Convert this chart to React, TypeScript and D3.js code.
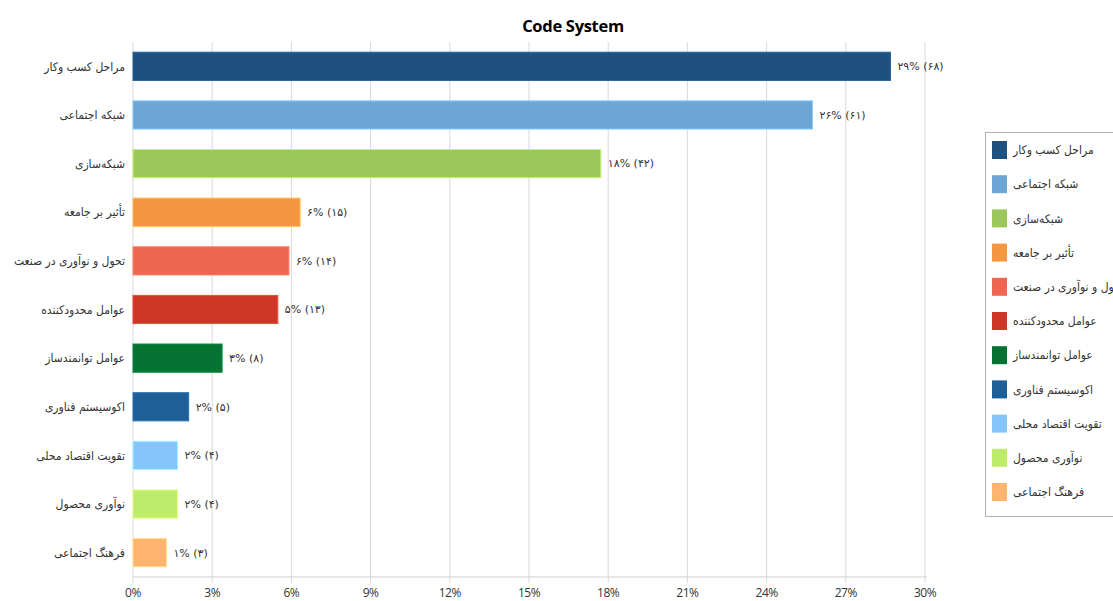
import React from "react";
import * as d3 from "d3";

const categories = [
  "مراحل کسب وکار",
  "شبکه اجتماعی",
  "شبکه‌سازی",
  "تأثیر بر جامعه",
  "تحول و نوآوری در صنعت",
  "عوامل محدودکننده",
  "عوامل توانمندساز",
  "اکوسیستم فناوری",
  "تقویت اقتصاد محلی",
  "نوآوری محصول",
  "فرهنگ اجتماعی",
];
const counts = [68, 61, 42, 15, 14, 13, 8, 5, 4, 4, 3];
const colors = [
  "#1e5180",
  "#6da6d4",
  "#9cc75a",
  "#f59742",
  "#ee6652",
  "#cd3728",
  "#057232",
  "#1f5f97",
  "#86c5fb",
  "#bcec6a",
  "#feb46e",
];
const xTicks = [0, 3, 6, 9, 12, 15, 18, 21, 24, 27, 30];
const title = "Code System";

const faDigits = "۰۱۲۳۴۵۶۷۸۹";
const toFa = (s: string) => s.replace(/[0-9]/g, (d) => faDigits[+d]);

export default function App() {
  const W = 1113, H = 601;
  const left = 133, right = 925, top = 42, bottom = 577;
  const total = d3.sum(counts);
  const pct = counts.map((c) => (c / total) * 100);

  const x = d3.scaleLinear().domain([0, 30]).range([left, right]);
  const y = d3
    .scaleBand<string>()
    .domain(categories)
    .range([top, bottom])
    .paddingInner(0.42)
    .paddingOuter(0.21);

  const lgX = 985, lgY = 132, lgH = 384;
  const lgStep = 34.2;
  const font = "'DejaVu Sans Condensed', 'DejaVu Sans', sans-serif";
  const numFont = "'DejaVu Sans', sans-serif";
  const axisFont = "'Open Sans', sans-serif";

  return (
    <svg
      width={W}
      height={H}
      style={{ position: "absolute", left: 0, top: 0, background: "#fff" }}
    >
      <text
        x={573}
        y={32}
        textAnchor="middle"
        fontFamily={axisFont}
        fontWeight="bold"
        fontSize={16.5}
        fill="#000"
        style={{ letterSpacing: "-0.3px" }}
      >
        {title}
      </text>

      {xTicks.map((t) => (
        <line
          key={t}
          x1={x(t)}
          x2={x(t)}
          y1={top}
          y2={bottom + 6}
          stroke="#d9d9d9"
          strokeWidth={1}
        />
      ))}
      <line x1={left} x2={right + 2} y1={bottom} y2={bottom} stroke="#d0d0d0" />

      {xTicks.map((t) => (
        <text
          key={"l" + t}
          x={x(t)}
          y={597}
          textAnchor="middle"
          fontFamily={axisFont}
          fontSize={12}
          fill="#333"
          style={{ letterSpacing: "-0.5px" }}
        >
          {t + "%"}
        </text>
      ))}

      {categories.map((c, i) => {
        const yy = y(c)!;
        const bw = y.bandwidth();
        return (
          <g key={c}>
            <rect
              x={x(0)}
              y={yy}
              width={x(pct[i]) - x(0)}
              height={bw}
              fill={colors[i]}
              stroke={d3.color(colors[i])!.brighter(0.6).formatHex()}
              strokeWidth={1}
            />
            <text
              x={left - 8}
              y={yy + bw / 2}
              dy="0.35em"
              textAnchor="end"
              fontFamily={font}
              fontSize={12}
              fill="#333"
            >
              {c}
            </text>
            <text
              x={x(pct[i]) + 7}
              y={yy + bw / 2}
              dy="0.35em"
              textAnchor="start"
              fontFamily={numFont}
              fontSize={11}
              fill="#333"
              style={{ direction: "ltr", unicodeBidi: "embed", letterSpacing: "-0.3px" }}
            >
              {toFa(`${Math.round(pct[i])}% (${counts[i]})`)}
            </text>
          </g>
        );
      })}

      <rect
        x={lgX + 0.5}
        y={lgY + 0.5}
        width={200}
        height={lgH}
        fill="#fff"
        stroke="#b0b0b0"
      />
      {categories.map((c, i) => {
        const sy = lgY + 9 + i * lgStep;
        return (
          <g key={"lg" + c}>
            <rect x={992} y={sy} width={15} height={18} fill={colors[i]} />
            <text
              x={1013}
              y={sy + 9}
              dy="0.35em"
              fontFamily={font}
              fontSize={12}
              fill="#333"
            >
              {c}
            </text>
          </g>
        );
      })}
    </svg>
  );
}
